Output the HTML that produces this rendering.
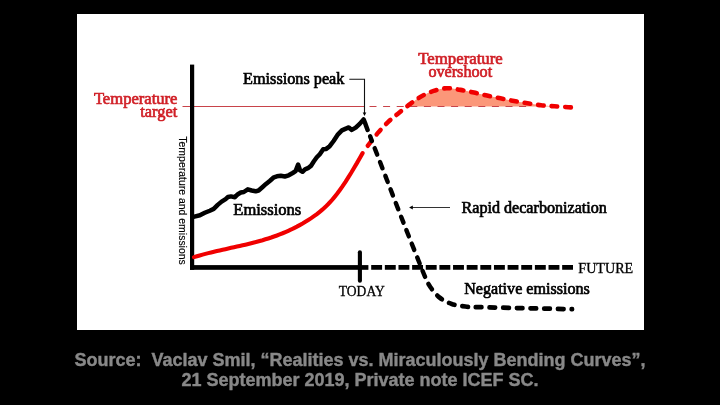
<!DOCTYPE html>
<html><head><meta charset="utf-8">
<style>
html,body{margin:0;padding:0;background:#000;width:720px;height:405px;overflow:hidden}
svg{display:block;will-change:transform}
.sb{font-family:"Liberation Serif",serif;font-weight:bold}
.sr{font-family:"Liberation Serif",serif}
.ss{font-family:"Liberation Sans",sans-serif}
</style></head><body>
<svg width="720" height="405" viewBox="0 0 720 405">
<rect x="0" y="0" width="720" height="405" fill="#000"/>
<rect x="77" y="14" width="567" height="316" fill="#fff"/>

<path d="M407.13,106.50 L407.13,106.29 L407.73,105.84 L408.33,105.38 L408.91,104.94 L409.50,104.50 L410.08,104.07 L410.66,103.64 L411.24,103.21 L411.81,102.78 L412.39,102.35 L412.96,101.93 L413.53,101.51 L414.10,101.09 L414.68,100.68 L415.25,100.27 L415.82,99.86 L416.40,99.46 L416.98,99.07 L417.56,98.68 L418.14,98.30 L418.72,97.93 L419.31,97.56 L419.90,97.20 L420.50,96.84 L421.10,96.50 L421.70,96.16 L422.31,95.83 L422.92,95.50 L423.53,95.18 L424.15,94.86 L424.76,94.55 L425.38,94.25 L426.01,93.95 L426.63,93.66 L427.26,93.37 L427.88,93.09 L428.51,92.82 L429.14,92.55 L429.78,92.29 L430.41,92.04 L431.05,91.80 L431.68,91.56 L432.32,91.33 L432.96,91.11 L433.60,90.90 L434.24,90.69 L434.88,90.49 L435.53,90.30 L436.17,90.10 L436.82,89.92 L437.46,89.74 L438.11,89.57 L438.76,89.40 L439.42,89.24 L440.07,89.09 L440.72,88.95 L441.38,88.82 L442.04,88.70 L442.70,88.60 L443.36,88.50 L444.03,88.41 L444.69,88.34 L445.36,88.28 L446.03,88.23 L446.70,88.20 L447.37,88.18 L448.05,88.19 L448.74,88.21 L449.42,88.24 L450.11,88.29 L450.80,88.36 L451.49,88.43 L452.19,88.52 L452.88,88.62 L453.58,88.72 L454.28,88.83 L454.98,88.94 L455.67,89.06 L456.37,89.19 L457.06,89.31 L457.75,89.43 L458.44,89.55 L459.13,89.67 L459.82,89.79 L460.50,89.90 L461.18,90.01 L461.86,90.12 L462.53,90.24 L463.21,90.35 L463.89,90.47 L464.56,90.60 L465.23,90.72 L465.90,90.85 L466.57,90.98 L467.24,91.11 L467.91,91.25 L468.58,91.38 L469.25,91.52 L469.91,91.65 L470.58,91.79 L471.25,91.93 L471.91,92.07 L472.57,92.22 L473.24,92.36 L473.90,92.50 L474.56,92.64 L475.22,92.79 L475.88,92.94 L476.53,93.09 L477.19,93.25 L477.84,93.41 L478.49,93.56 L479.14,93.72 L479.79,93.88 L480.44,94.04 L481.09,94.20 L481.75,94.36 L482.40,94.52 L483.05,94.68 L483.70,94.84 L484.36,95.00 L485.02,95.15 L485.68,95.30 L486.34,95.45 L487.00,95.60 L487.67,95.74 L488.33,95.89 L489.00,96.03 L489.67,96.17 L490.35,96.30 L491.02,96.44 L491.70,96.57 L492.37,96.71 L493.05,96.84 L493.73,96.97 L494.40,97.11 L495.08,97.24 L495.76,97.37 L496.44,97.50 L497.12,97.63 L497.79,97.77 L498.47,97.90 L499.15,98.03 L499.82,98.17 L500.50,98.30 L501.18,98.44 L501.85,98.57 L502.52,98.71 L503.20,98.85 L503.88,98.99 L504.55,99.13 L505.23,99.26 L505.90,99.40 L506.57,99.54 L507.25,99.68 L507.93,99.82 L508.60,99.96 L509.27,100.09 L509.95,100.23 L510.62,100.36 L511.30,100.49 L511.98,100.62 L512.65,100.75 L513.33,100.88 L514.00,101.00 L514.67,101.12 L515.35,101.24 L516.02,101.36 L516.70,101.47 L517.37,101.59 L518.05,101.70 L518.72,101.81 L519.40,101.92 L520.07,102.03 L520.74,102.14 L521.42,102.24 L522.09,102.35 L522.77,102.46 L523.44,102.56 L524.12,102.67 L524.79,102.77 L525.47,102.88 L526.15,102.99 L526.82,103.09 L527.50,103.20 L528.18,103.31 L528.86,103.42 L529.54,103.53 L530.22,103.64 L530.90,103.76 L531.58,103.87 L532.26,103.99 L532.94,104.10 L533.62,104.21 L534.31,104.33 L534.99,104.44 L535.67,104.54 L536.35,104.65 L537.03,104.75 L537.71,104.85 L538.39,104.95 L539.07,105.05 L539.75,105.14 L540.42,105.22 L541.10,105.30 L541.77,105.37 L542.45,105.45 L543.12,105.51 L543.79,105.57 L544.46,105.63 L545.13,105.68 L545.79,105.74 L546.46,105.78 L547.13,105.83 L547.79,105.87 L548.46,105.92 L549.13,105.96 L549.80,106.00 L550.46,106.04 L551.13,106.08 L551.80,106.12 L552.48,106.17 L553.15,106.21 L553.82,106.25 L554.50,106.30 L555.19,106.35 L555.90,106.40 L556.63,106.45 L557.37,106.50 L557.37,106.50 Z" fill="#fb9779"/>

<line x1="182.5" y1="106.5" x2="364.4" y2="106.5" stroke="#c8434a" stroke-width="1"/>
<line x1="369.5" y1="106.5" x2="530" y2="106.5" stroke="#c8434a" stroke-width="1" stroke-dasharray="7 6.6"/>

<rect x="190" y="64.6" width="4.2" height="205.2" fill="#000"/>
<rect x="190" y="265.1" width="178.4" height="4.7" fill="#000"/>
<line x1="371.2" y1="267.45" x2="573" y2="267.45" stroke="#000" stroke-width="4.7" stroke-dasharray="10.9 2.74"/>
<line x1="359.9" y1="252.2" x2="359.9" y2="280.8" stroke="#000" stroke-width="4.1" stroke-linecap="round"/>

<path d="M194.0,257.11 L196.9,256.24 L199.7,255.42 L202.6,254.63 L205.4,253.87 L208.3,253.13 L211.1,252.43 L214.0,251.74 L216.9,251.07 L219.7,250.41 L222.6,249.77 L225.4,249.13 L228.3,248.50 L231.1,247.87 L234.0,247.24 L236.9,246.60 L239.7,245.96 L242.6,245.31 L245.4,244.64 L248.3,243.96 L251.2,243.25 L254.0,242.52 L256.9,241.77 L259.7,240.98 L262.6,240.17 L265.4,239.31 L268.3,238.42 L271.2,237.48 L274.0,236.50 L276.9,235.47 L279.7,234.39 L282.6,233.25 L285.4,232.05 L288.3,230.79 L291.2,229.47 L294.0,228.08 L296.9,226.62 L299.7,225.08 L302.6,223.47 L305.4,221.77 L308.3,219.99 L311.2,218.13 L314.0,216.16 L316.9,214.07 L319.7,211.83 L322.6,209.43 L325.5,206.83 L328.3,204.01 L331.2,200.95 L334.0,197.62 L336.9,194.03 L339.7,190.19 L342.6,186.12 L345.5,181.84 L348.3,177.38 L351.2,172.76 L354.0,168.00 L356.9,163.13 L359.7,158.16 L362.6,153.12" fill="none" stroke="#f00000" stroke-width="4.1" stroke-linecap="round"/>
<path transform="translate(0,100) scale(1,1.07) translate(0,-100)" d="M367.80,142.71 C369.50,140.70 374.62,134.35 378.00,130.65 C381.38,126.96 384.80,123.52 388.10,120.56 C391.40,117.60 394.23,115.62 397.80,112.90 C401.37,110.17 405.62,106.90 409.50,104.21 C413.38,101.51 417.08,98.85 421.10,96.73 C425.12,94.61 429.33,92.79 433.60,91.50 C437.87,90.20 442.22,89.13 446.70,88.97 C451.18,88.82 455.97,89.89 460.50,90.56 C465.03,91.23 469.48,92.10 473.90,92.99 C478.32,93.88 482.57,94.98 487.00,95.89 C491.43,96.79 496.00,97.57 500.50,98.41 C505.00,99.25 509.50,100.17 514.00,100.93 C518.50,101.70 522.98,102.32 527.50,102.99 C532.02,103.66 536.60,104.47 541.10,104.95 C545.60,105.44 549.98,105.59 554.50,105.89 C559.02,106.18 565.22,106.56 568.20,106.73 C571.18,106.90 571.70,106.88 572.40,106.92" fill="none" stroke="#f00000" stroke-width="4.3" stroke-dasharray="5.9 7.7" stroke-dashoffset="0.05" stroke-linecap="round"/>

<path d="M194.40,216.60 L199.90,215.30 L204.80,212.80 L209.80,210.70 L213.70,208.90 L217.70,204.90 L221.60,201.60 L225.60,199.10 L228.00,197.00 L231.00,196.40 L234.90,197.20 L237.90,194.20 L240.80,192.50 L243.80,192.00 L247.80,189.30 L251.70,190.50 L255.70,191.30 L258.60,190.50 L262.60,187.00 L266.00,183.90 L270.00,180.70 L273.90,177.30 L276.90,176.30 L280.80,175.80 L284.80,176.50 L288.70,175.30 L292.70,173.00 L295.60,171.10 L298.10,164.60 L300.10,170.40 L302.50,171.80 L305.00,169.40 L307.90,168.20 L310.90,165.90 L313.90,161.30 L316.80,157.30 L319.80,154.20 L323.20,149.20 L326.20,148.90 L329.70,146.20 L333.60,141.00 L338.00,134.30 L341.90,130.40 L345.90,128.60 L348.80,127.40 L351.80,129.90 L355.70,127.60 L359.70,123.90 L363.60,119.40 L365.60,124.40 L367.60,129.90" fill="none" stroke="#000" stroke-width="4.5" stroke-linejoin="round" stroke-linecap="round"/>
<path transform="translate(0,250) scale(1,1.08) translate(0,-250)" d="M370.20,144.91 C372.97,151.56 381.25,171.50 386.80,184.81 C392.35,198.13 398.22,212.31 403.50,224.81 C408.78,237.31 414.83,251.33 418.50,259.81 C422.17,268.30 423.52,271.65 425.50,275.74 C427.48,279.83 428.07,281.31 430.40,284.35 C432.73,287.39 435.95,291.39 439.50,293.98 C443.05,296.57 447.38,298.52 451.70,299.91 C456.02,301.30 460.68,301.81 465.40,302.31 C470.12,302.82 470.90,302.72 480.00,302.96 C489.10,303.21 504.63,303.49 520.00,303.80 C535.37,304.10 563.50,304.65 572.20,304.81" fill="none" stroke="#000" stroke-width="4.4" stroke-dasharray="5.9 7.75" stroke-dashoffset="1.5" stroke-linecap="round"/>

<path d="M349.3,79.3 H364.5 V113" fill="none" stroke="#111" stroke-width="1.1"/>
<path d="M362.7,112.4 L366.3,112.4 L364.5,116.1 Z" fill="#000"/>
<line x1="412" y1="207.5" x2="450" y2="207.5" stroke="#333" stroke-width="1.1"/>
<path d="M409.1,207.5 L412.8,205.4 L412.8,209.6 Z" fill="#000"/>

<text class="sr" x="93.90" y="103.90" font-size="16.0" textLength="83.59" lengthAdjust="spacingAndGlyphs" fill="#d01f26" stroke="#d01f26" stroke-width="0.65">Temperature</text>
<text class="sr" x="140.20" y="117.40" font-size="16.0" textLength="37.03" lengthAdjust="spacingAndGlyphs" fill="#d01f26" stroke="#d01f26" stroke-width="0.65">target</text>
<text class="sr" x="243.10" y="83.70" font-size="16.0" textLength="101.29" lengthAdjust="spacingAndGlyphs" fill="#000" stroke="#000" stroke-width="0.65">Emissions peak</text>
<text class="sr" x="418.30" y="63.80" font-size="16.0" textLength="84.41" lengthAdjust="spacingAndGlyphs" fill="#d01f26" stroke="#d01f26" stroke-width="0.65">Temperature</text>
<text class="sr" x="428.40" y="76.50" font-size="16.0" textLength="63.76" lengthAdjust="spacingAndGlyphs" fill="#d01f26" stroke="#d01f26" stroke-width="0.65">overshoot</text>
<text class="sr" x="233.30" y="215.20" font-size="16.0" textLength="67.98" lengthAdjust="spacingAndGlyphs" fill="#000" stroke="#000" stroke-width="0.65">Emissions</text>
<text class="sr" x="461.50" y="212.50" font-size="16.0" textLength="145.39" lengthAdjust="spacingAndGlyphs" fill="#000" stroke="#000" stroke-width="0.65">Rapid decarbonization</text>
<text class="sr" x="464.20" y="293.50" font-size="16.0" textLength="125.59" lengthAdjust="spacingAndGlyphs" fill="#000" stroke="#000" stroke-width="0.65">Negative emissions</text>
<text class="sr" x="338.80" y="295.60" font-size="13.6" textLength="45.90" lengthAdjust="spacingAndGlyphs" fill="#000" stroke="#000" stroke-width="0.3">TODAY</text>
<text class="sr" x="578.30" y="272.70" font-size="13.6" textLength="54.91" lengthAdjust="spacingAndGlyphs" fill="#000" stroke="#000" stroke-width="0.3">FUTURE</text>
<text class="ss" font-size="10.2" stroke="#000" stroke-width="0.15" fill="#000" textLength="128.5" lengthAdjust="spacingAndGlyphs" transform="translate(178.7,136.3) rotate(90)">Temperature and emissions</text>

<g class="ss" font-weight="bold" font-size="18" fill="#888" stroke="#888" stroke-width="0.4">
<text x="360" y="365.5" text-anchor="middle">Source:&#160; Vaclav Smil, “Realities vs. Miraculously Bending Curves”,</text>
<text x="360" y="385.5" text-anchor="middle">21 September 2019, Private note ICEF SC.</text>
</g>
</svg>
</body></html>
